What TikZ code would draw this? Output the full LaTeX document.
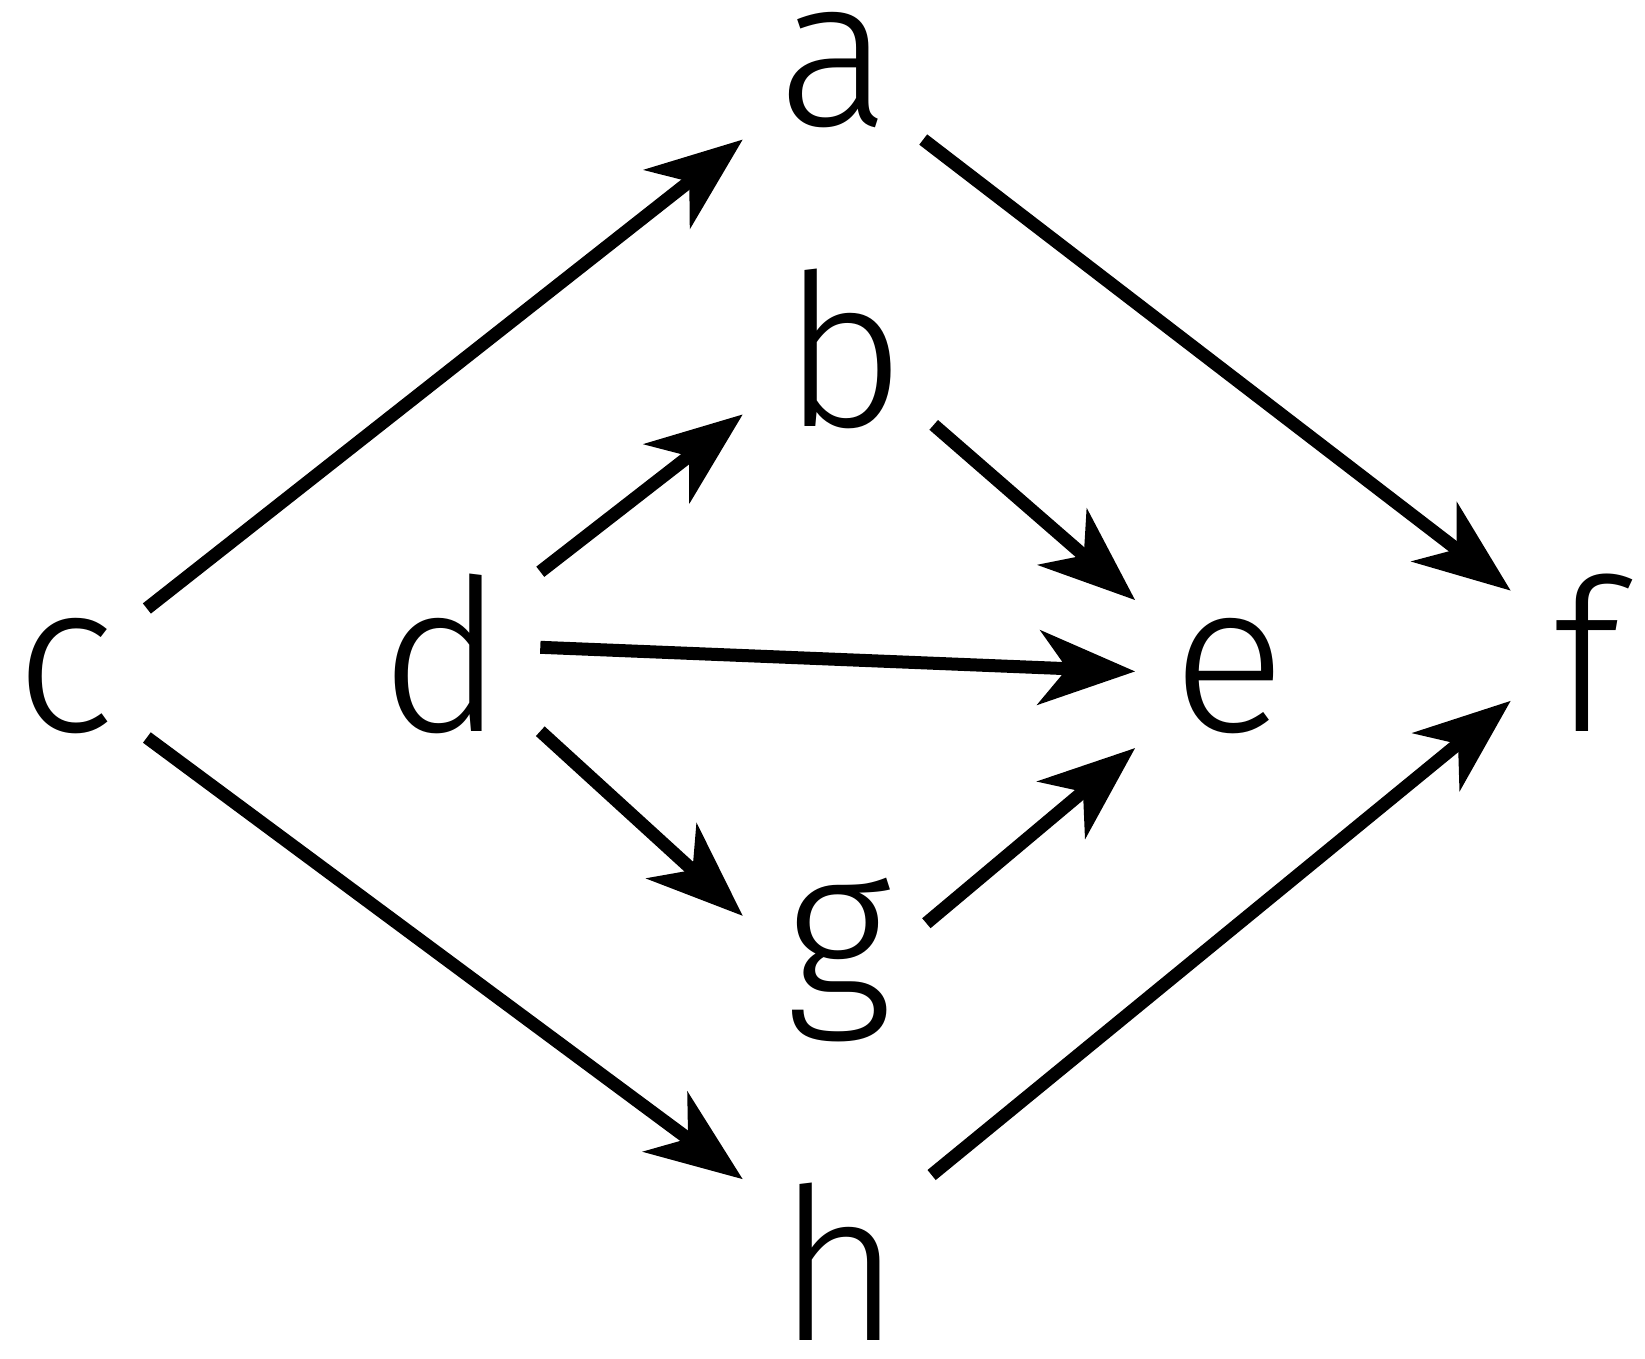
\documentclass[tikz,border=0pt]{standalone}
\usepackage{fontspec}
\setmainfont{Fira Sans Light}
\usetikzlibrary{arrows.meta}
\begin{document}
\begin{tikzpicture}[x=1.049pt,y=-1.049pt,
  lbl/.style={inner sep=0pt,font=\fontsize{212}{212}\selectfont},
  arr/.style={line width=13pt,-{Stealth[length=96pt 0,width=74pt 0,inset=28pt 0]}}]
\node[lbl,anchor=base] (a) at (795,120) {a};
\node[lbl,anchor=base] (b) at (805,407) {b};
\node[lbl,anchor=base] (c) at (62,697) {c};
\node[lbl,anchor=base] (d) at (422,697) {d};
\node[lbl,anchor=base] (e) at (1172,697) {e};
\node[lbl,anchor=base] (f) at (1512,697) {f};
\node[lbl,anchor=base] (g) at (800,952) {g};
\node[lbl,anchor=base] (h) at (800,1278) {h};
\coordinate (ca1) at (140,580); \coordinate (ca2) at (708,133);
\coordinate (af1) at (880,133); \coordinate (af2) at (1440,563);
\coordinate (db1) at (515,545); \coordinate (db2) at (708,395);
\coordinate (be1) at (890,405); \coordinate (be2) at (1082,572);
\coordinate (de1) at (515,617); \coordinate (de2) at (1082,640);
\coordinate (dg1) at (515,697); \coordinate (dg2) at (708,873);
\coordinate (ge1) at (883,880); \coordinate (ge2) at (1082,713);
\coordinate (ch1) at (140,703); \coordinate (ch2) at (708,1124);
\coordinate (hf1) at (888,1120); \coordinate (hf2) at (1440,668);
\foreach \p in {ca,af,db,be,de,dg,ge,ch,hf} \draw[arr] (\p1) -- (\p2);
\pgfresetboundingbox
\useasboundingbox (0,0) rectangle (1568,1294.5);
\end{tikzpicture}
\end{document}
